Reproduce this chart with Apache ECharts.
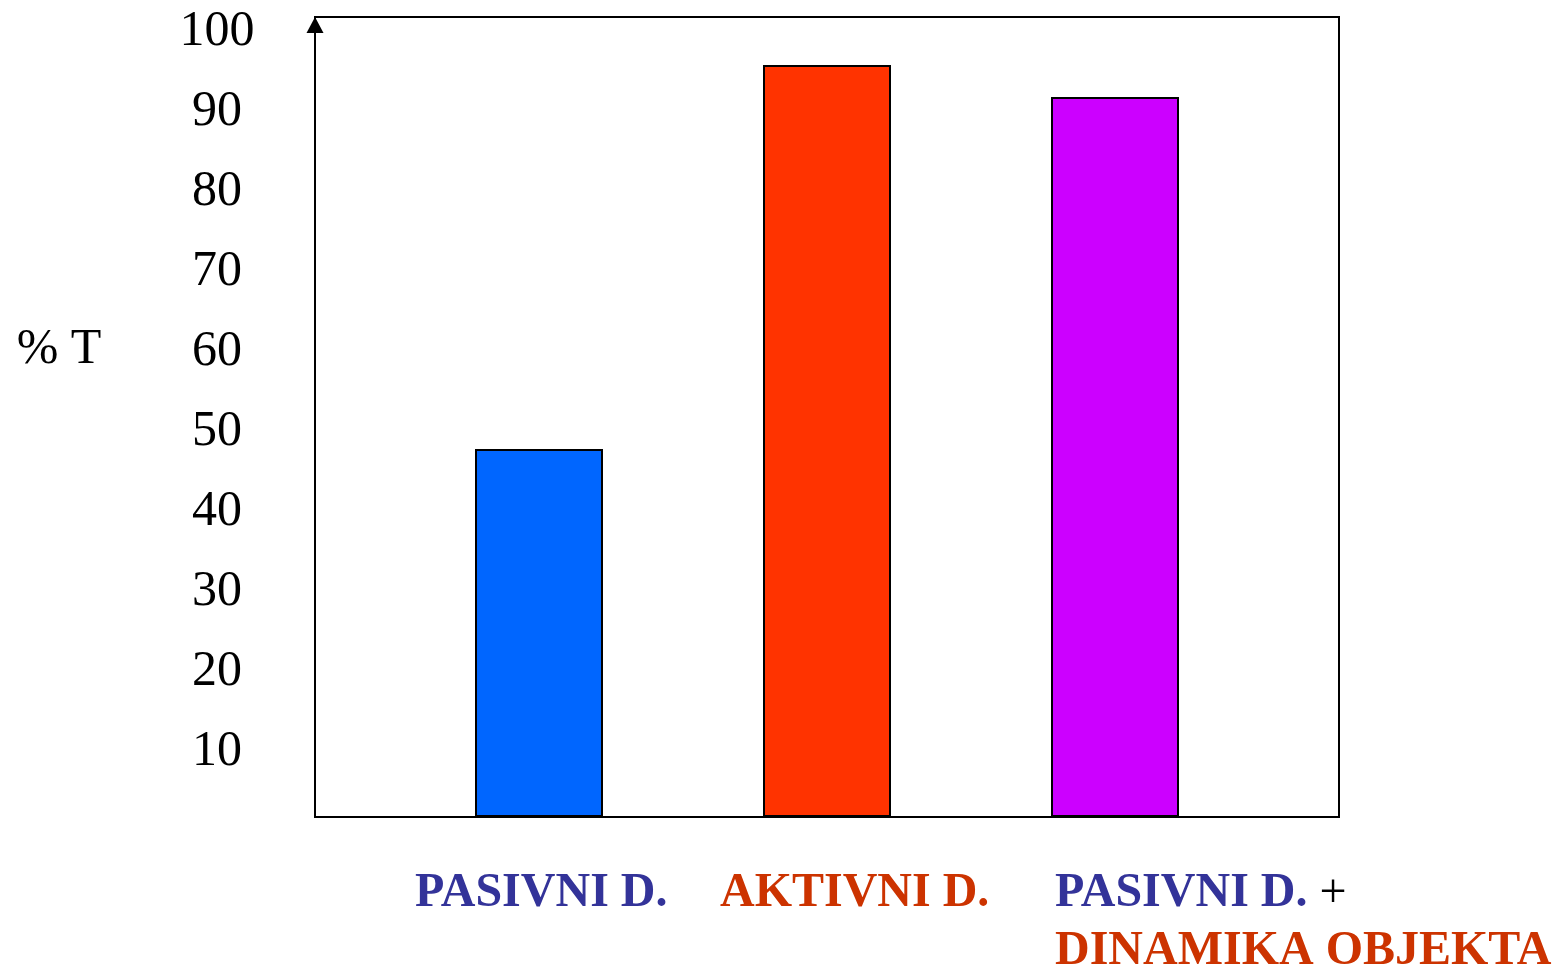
<!DOCTYPE html>
<html>
<head>
<meta charset="utf-8">
<script src="https://cdn.jsdelivr.net/npm/echarts@6/dist/echarts.min.js"></script>
<style>
html,body{margin:0;padding:0;background:#fff;}
#chart{width:1556px;height:966px;}
</style>
</head>
<body>
<div id="chart"></div>
<script>
// ---- data ----
const categories = ['PASIVNI D.', 'AKTIVNI D.', 'PASIVNI D. +|DINAMIKA OBJEKTA'];
const positions = [1, 2, 3];
const values = [46, 94, 90];
const barColors = ['#0066FF', '#FF3300', '#CC00FF'];
const yTicks = [10, 20, 30, 40, 50, 60, 70, 80, 90, 100];
const yAxisTitle = '% T';

const FONT = "'Liberation Serif', 'Times New Roman', serif";
const chart = echarts.init(document.getElementById('chart'));

function rs(color, weight) {
  return { fontFamily: FONT, fontSize: 48, fontWeight: weight, fill: color, color: color, lineHeight: 58 };
}
const rich = { b: rs('#333399', 'bold'), r: rs('#CC3300', 'bold'), k: rs('#000000', 'normal') };

const parts3 = categories[2].split('|');
const labelGraphics = [
  { type: 'text', x: 415, y: 865, style: { text: '{b|' + categories[0] + '}', rich: rich, align: 'left', verticalAlign: 'top' } },
  { type: 'text', x: 720, y: 865, style: { text: '{r|' + categories[1] + '}', rich: rich, align: 'left', verticalAlign: 'top' } },
  { type: 'text', x: 1055, y: 865, style: {
      text: '{b|' + parts3[0].replace(' +', '') + '}{k| +}\n{r|' + parts3[1] + '}',
      rich: rich, align: 'left', verticalAlign: 'top' } },
  { type: 'text', x: 59, y: 350, style: { text: yAxisTitle, fontFamily: FONT, fontSize: 50, fill: '#000', align: 'center', verticalAlign: 'middle' } }
];

chart.setOption({
  animation: false,
  backgroundColor: '#fff',
  grid: { left: 315, top: 17, width: 1024, height: 800, outerBoundsMode: 'none', containLabel: false,
          show: true, borderColor: '#000', borderWidth: 2, backgroundColor: 'transparent' },
  xAxis: {
    type: 'value', min: 2 / 9, max: 34 / 9,
    axisLine: { show: false }, axisTick: { show: false }, axisLabel: { show: false }, splitLine: { show: false }
  },
  yAxis: {
    type: 'value', min: 0, max: 100, interval: 10,
    axisLine: { show: true, lineStyle: { color: '#000', width: 2 }, symbol: ['none', 'triangle'], symbolSize: [17, 16], symbolOffset: [0, -8] },
    axisTick: { show: false },
    splitLine: { show: false },
    axisLabel: {
      show: true, showMinLabel: false, margin: 98, align: 'center', verticalAlign: 'middle',
      fontFamily: FONT, fontSize: 50, color: '#000',
      formatter: function (v) { return yTicks.indexOf(v) >= 0 ? '{t|' + v + '}' : ''; },
      rich: { t: { fontFamily: FONT, fontSize: 50, color: '#000', padding: [29, 0, 0, 0] } }
    }
  },
  series: [{
    type: 'bar',
    barWidth: 128,
    data: positions.map(function (p, i) {
      return { value: [p, values[i]], itemStyle: { color: barColors[i], borderColor: '#000', borderWidth: 2 } };
    })
  }],
  graphic: labelGraphics
});
</script>
</body>
</html>
